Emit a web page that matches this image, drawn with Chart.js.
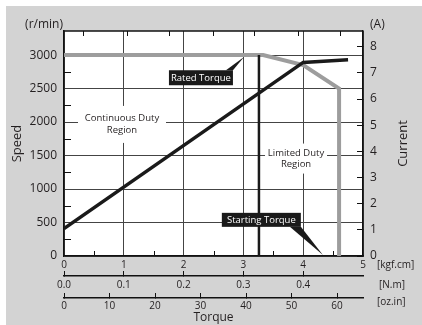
<!DOCTYPE html>
<html>
<head>
<meta charset="utf-8">
<script src="https://cdn.jsdelivr.net/npm/chart.js@4.4.0/dist/chart.umd.min.js"></script>
<style>
html, body { margin: 0; padding: 0; background: #fff; }
#wrap { position: absolute; left: 6px; top: 6px; width: 416px; height: 319px; background: #d3d3d3; }
</style>
</head>
<body>
<div id="wrap"><canvas id="myChart" width="416" height="319"></canvas></div>
<script>
// courbe vitesse (gris) : couple en kgf.cm / vitesse en r/min
const speedTorque = [0, 3.33, 4.0, 4.6, 4.6];
const speedValues = [3000, 3000, 2850, 2500, 0];

// courbe courant (noir) : couple en kgf.cm / courant en A
const currentTorque = [0, 4.0, 4.75];
const currentValues = [1.05, 7.4, 7.5];

// trait vertical du couple nominal
const ratedTorque = [3.26, 3.26];
const ratedSpeed = [3000, 0];

// graduations
const kgfTicks = [0, 1, 2, 3, 4, 5];
const nmTicks = [0.0, 0.1, 0.2, 0.3, 0.4];
const ozTicks = [0, 10, 20, 30, 40, 50, 60];
const speedTicks = [0, 500, 1000, 1500, 2000, 2500, 3000];
const currentTicks = [0, 1, 2, 3, 4, 5, 6, 7, 8];
const speedMinor = [250, 750, 1250, 1750, 2250, 2750];
const kgfMinor = [0.5, 1.5, 2.5, 3.5, 4.5];
const topMinor = [0.31, 1.05, 1.76, 2.49, 3.18, 3.92, 4.62];

const FONT = "'Open Sans', sans-serif";
const INK = '#231f20';

const toPoints = (xs, ys) => xs.map((v, i) => ({x: v, y: ys[i]}));
const fixTicks = arr => scale => { scale.ticks = arr.map(v => ({value: v})); };

// textes des régions (fond blanc) et étiquettes noires avec pointe
const regions = [
    {lines: ['Continuous Duty', 'Region'], kgf: 0.97, speed: 1965, w: 88, h: 37},
    {lines: ['Limited Duty', 'Region'], kgf: 3.88, speed: 1455, w: 62, h: 30}
];
const callouts = [
    {text: 'Rated Torque', kgf: 2.29, speed: 2662, w: 64, h: 15, side: 'top', base: 7, tipKgf: 3.01, tipSpeed: 2970},
    {text: 'Starting Torque', kgf: 3.30, speed: 540, w: 79, h: 14, side: 'bottom', base: 11, tipKgf: 4.33, tipSpeed: 15}
];

const decor = {
    id: 'decor',
    beforeDraw(chart) {
        // fond blanc de la zone du graphique
        const {ctx, chartArea: a} = chart;
        ctx.save();
        ctx.fillStyle = '#fff';
        ctx.fillRect(a.left, a.top, a.right - a.left, a.bottom - a.top);
        ctx.restore();
    },
    beforeDatasetsDraw(chart) {
        const {ctx, scales: {x, y}} = chart;
        ctx.save();
        regions.forEach(r => {
            const cx = x.getPixelForValue(r.kgf);
            const cy = y.getPixelForValue(r.speed);
            ctx.fillStyle = '#fff';
            ctx.fillRect(cx - r.w / 2, cy - r.h / 2, r.w, r.h);
            ctx.fillStyle = INK;
            ctx.font = '9.5px ' + FONT;
            ctx.textAlign = 'center';
            ctx.textBaseline = 'middle';
            r.lines.forEach((t, i) => ctx.fillText(t, cx, cy + (i - (r.lines.length - 1) / 2) * 11.5));
        });
        ctx.restore();
    },
    afterDatasetsDraw(chart) {
        const {ctx, scales: {x, y}} = chart;
        ctx.save();
        callouts.forEach(c => {
            const cx = x.getPixelForValue(c.kgf);
            const cy = y.getPixelForValue(c.speed);
            const l = cx - c.w / 2, t = cy - c.h / 2, r = cx + c.w / 2, b = cy + c.h / 2;
            const edge = c.side === 'top' ? t : b;
            ctx.fillStyle = '#1a1a1a';
            ctx.fillRect(l, t, c.w, c.h);
            ctx.beginPath();
            ctx.moveTo(r - c.base, edge);
            ctx.lineTo(x.getPixelForValue(c.tipKgf), y.getPixelForValue(c.tipSpeed));
            ctx.lineTo(r, edge);
            ctx.closePath();
            ctx.fill();
            ctx.fillStyle = '#fff';
            ctx.font = '9.5px ' + FONT;
            ctx.textAlign = 'center';
            ctx.textBaseline = 'middle';
            ctx.fillText(c.text, cx, cy + 0.5);
        });
        ctx.restore();
    },
    afterDraw(chart) {
        const {ctx, chartArea: a, scales: {x, y}} = chart;
        ctx.save();
        ctx.strokeStyle = '#111';
        ctx.lineWidth = 1.5;
        // bord haut du cadre
        ctx.beginPath();
        ctx.moveTo(a.left, a.top);
        ctx.lineTo(a.right, a.top);
        ctx.stroke();
        // petites graduations intérieures
        ctx.lineWidth = 1;
        ctx.beginPath();
        kgfMinor.forEach(v => {
            const px = Math.round(x.getPixelForValue(v)) + 0.5;
            ctx.moveTo(px, a.bottom); ctx.lineTo(px, a.bottom - 5);
        });
        topMinor.forEach(v => {
            const px = Math.round(x.getPixelForValue(v)) + 0.5;
            ctx.moveTo(px, a.top); ctx.lineTo(px, a.top + 5);
        });
        speedMinor.forEach(v => {
            const py = Math.round(y.getPixelForValue(v)) + 0.5;
            ctx.moveTo(a.left, py); ctx.lineTo(a.left + 7, py);
        });
        ctx.stroke();
        // unités
        ctx.fillStyle = INK;
        ctx.font = '12px ' + FONT;
        ctx.textBaseline = 'middle';
        ctx.textAlign = 'right';
        ctx.fillText('(r/min)', a.left - 1, 19);
        ctx.textAlign = 'left';
        ctx.fillText('(A)', a.right + 7, 19);
        ctx.font = '10px ' + FONT;
        ctx.fillText('[kgf.cm]', a.right + 14, 259);
        ctx.fillText('[N.m]', a.right + 16, 279);
        ctx.fillText('[oz.in]', a.right + 14, 296);
        // titre axe droit
        ctx.font = '13px ' + FONT;
        ctx.translate(397, (a.top + a.bottom) / 2);
        ctx.rotate(-Math.PI / 2);
        ctx.textAlign = 'center';
        ctx.fillText('Current', 0, 0);
        ctx.restore();
    }
};

const ctx = document.getElementById('myChart');

new Chart(ctx, {
    type: 'line',
    data: {
        datasets: [
            {
                label: 'Current',
                data: toPoints(currentTorque, currentValues),
                yAxisID: 'y1',
                borderColor: '#1a1a1a',
                borderWidth: 3.5,
                order: 0
            },
            {
                label: 'Rated Torque',
                data: toPoints(ratedTorque, ratedSpeed),
                yAxisID: 'y',
                borderColor: '#1a1a1a',
                borderWidth: 2.5,
                order: 1
            },
            {
                label: 'Speed',
                data: toPoints(speedTorque, speedValues),
                yAxisID: 'y',
                borderColor: '#9d9d9d',
                borderWidth: 4,
                order: 2
            }
        ]
    },
    options: {
        responsive: false,
        animation: false,
        events: [],
        layout: {padding: {top: 25, left: 0, right: 0, bottom: 0}},
        elements: {
            point: {radius: 0},
            line: {tension: 0, fill: false, borderCapStyle: 'butt', borderJoinStyle: 'miter'}
        },
        plugins: {legend: {display: false}, tooltip: {enabled: false}},
        scales: {
            x: {
                type: 'linear', position: 'bottom', min: 0, max: 5, weight: 1,
                afterBuildTicks: fixTicks(kgfTicks),
                afterFit: s => { s.height = 20; },
                grid: {color: '#444', lineWidth: 1, drawTicks: false},
                border: {color: '#111', width: 1.5},
                ticks: {padding: 3, color: INK, font: {family: FONT, size: 10}, callback: v => String(v)}
            },
            xNm: {
                type: 'linear', position: 'bottom', min: 0, max: 0.5, weight: 2,
                afterBuildTicks: fixTicks(nmTicks),
                afterFit: s => { s.height = 22; },
                grid: {drawOnChartArea: false, tickLength: -5, color: '#111'},
                border: {color: '#111', width: 1.5},
                ticks: {padding: 8, color: INK, font: {family: FONT, size: 10}, callback: v => v.toFixed(1)}
            },
            xOz: {
                type: 'linear', position: 'bottom', min: 0, max: 65.7, weight: 3,
                afterBuildTicks: fixTicks(ozTicks),
                afterFit: s => { s.height = 27; },
                grid: {drawOnChartArea: false, tickLength: -5, color: '#111'},
                border: {color: '#111', width: 1.5},
                ticks: {padding: 7, color: INK, font: {family: FONT, size: 10}, callback: v => String(v)},
                title: {display: true, text: 'Torque', color: INK, font: {family: FONT, size: 12}, padding: {top: 0, bottom: 0}}
            },
            y: {
                type: 'linear', position: 'left', min: 0, max: 3360,
                afterBuildTicks: fixTicks(speedTicks),
                afterFit: s => { s.width = 58; },
                grid: {color: '#444', lineWidth: 1, drawTicks: false},
                border: {color: '#111', width: 1.5},
                ticks: {padding: 7, color: INK, font: {family: FONT, size: 12}, callback: v => String(v)},
                title: {display: true, text: 'Speed', color: INK, font: {family: FONT, size: 13}, padding: {top: 3, bottom: 0}}
            },
            y1: {
                type: 'linear', position: 'right', min: 0, max: 8.6,
                afterBuildTicks: fixTicks(currentTicks),
                afterFit: s => { s.width = 59; },
                grid: {drawOnChartArea: false, tickLength: -6, color: '#111'},
                border: {color: '#111', width: 1.5},
                ticks: {padding: 13, color: INK, font: {family: FONT, size: 12}, callback: v => String(v)}
            }
        }
    },
    plugins: [decor]
});
</script>
</body>
</html>
